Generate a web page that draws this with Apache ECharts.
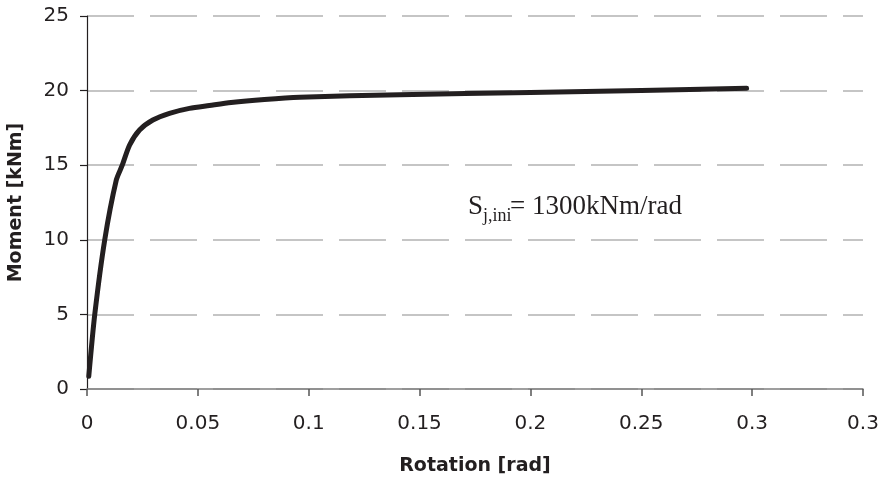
<!DOCTYPE html>
<html>
<head>
<meta charset="utf-8">
<script src="https://cdn.jsdelivr.net/npm/echarts@6/dist/echarts.min.js"></script>
<style>html,body{margin:0;padding:0;background:#fff}#c{width:878px;height:478px}</style>
</head>
<body>
<div id="c"></div>
<script>
const rotation = [0.0008, 0.0035, 0.008, 0.0132, 0.0159, 0.0192, 0.0237, 0.0297, 0.0372, 0.0462, 0.0552, 0.065, 0.08, 0.096, 0.141, 0.2, 0.25, 0.2975];
const moment   = [0.85,   5,      10,    14,     15,     16.35,  17.36,  18.03,  18.48,  18.81,  19.0,   19.2,  19.4, 19.55, 19.73, 19.88, 20.0, 20.15];
const xTickLabels = ['0', '0.05', '0.1', '0.15', '0.2', '0.25', '0.3', '0.3'];
const yTicks = [0, 5, 10, 15, 20, 25];

const chart = echarts.init(document.getElementById('c'));
const txt = '#231f20';
const sans = 'DejaVu Sans';
chart.setOption({
  animation: false,
  backgroundColor: '#fff',
  grid: { left: 87, right: 15, top: 16, bottom: 89, containLabel: false, outerBoundsMode: 'none' },
  xAxis: {
    type: 'value', min: 0, max: 0.35, interval: 0.05,
    name: 'Rotation [rad]', nameLocation: 'middle', nameGap: 68,
    nameTextStyle: { fontFamily: sans, fontWeight: 'bold', fontSize: 19, color: txt },
    axisLine: { show: true, lineStyle: { color: '#808080', width: 1.5 } },
    axisTick: { show: true, length: 7, lineStyle: { color: '#555', width: 1.5 } },
    splitLine: { show: false },
    axisLabel: {
      margin: 25, fontFamily: sans, fontSize: 20, color: txt,
      formatter: (v) => xTickLabels[Math.round(v / 0.05)]
    }
  },
  yAxis: {
    type: 'value', min: 0, max: 25, interval: 5,
    name: 'Moment [kNm]', nameLocation: 'middle', nameGap: 61, nameRotate: 90,
    nameTextStyle: { fontFamily: sans, fontWeight: 'bold', fontSize: 19, color: txt },
    axisLine: { show: true, lineStyle: { color: '#231f20', width: 1.2 } },
    axisTick: { show: true, length: 7, lineStyle: { color: '#231f20', width: 1.2 } },
    splitLine: { show: true, lineStyle: { color: '#b3b3b3', width: 1.5, type: [47, 16] } },
    axisLabel: {
      margin: 18, fontFamily: sans, fontSize: 20, color: txt,
      formatter: (v) => yTicks.includes(v) ? String(v) : ''
    }
  },
  series: [{
    type: 'line',
    data: rotation.map((r, i) => [r, moment[i]]),
    smooth: 0.25,
    symbol: 'none',
    lineStyle: { color: '#231f20', width: 5, cap: 'round', join: 'round' }
  }],
  graphic: [
    { type: 'text', left: 468, top: 193, style: { text: 'S', font: '27px "Liberation Serif"', fill: txt } },
    { type: 'text', left: 483, top: 207, style: { text: 'j,ini', font: '18px "Liberation Serif"', fill: txt } },
    { type: 'text', left: 510, top: 193, style: { text: '= 1300kNm/rad', font: '27px "Liberation Serif"', fill: txt } }
  ]
});
</script>
</body>
</html>
